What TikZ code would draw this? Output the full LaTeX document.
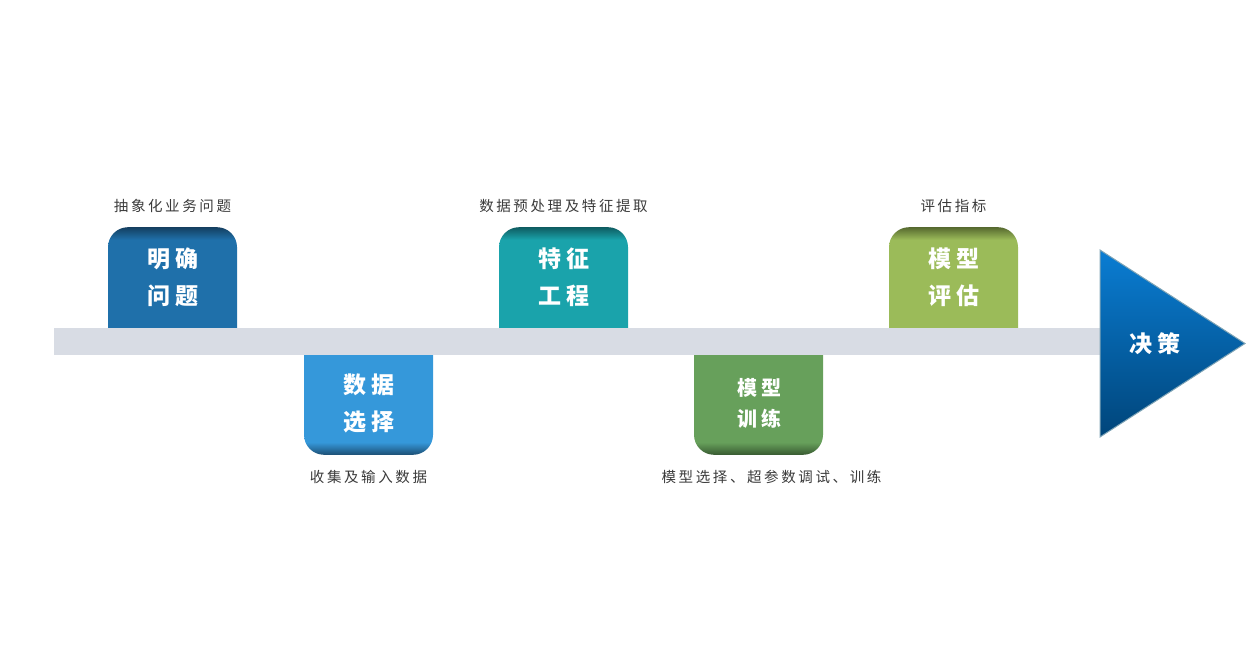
\documentclass[tikz,border=0pt]{standalone}
\usepackage{fontspec}
\newfontfamily\cjk[LetterSpace=18]{Noto Sans CJK SC}
\newfontfamily\cjkwide[LetterSpace=20]{Noto Sans CJK SC}
\usetikzlibrary{positioning}

\definecolor{barcolor}{HTML}{D8DCE4}
\definecolor{notegray}{HTML}{3A3A3A}
\definecolor{c1}{HTML}{1F70AA}\definecolor{c1r}{HTML}{143F60}
\definecolor{c2}{HTML}{3598DA}\definecolor{c2r}{HTML}{1D4F74}
\definecolor{c3}{HTML}{1AA3AB}\definecolor{c3r}{HTML}{0E5C61}
\definecolor{c4}{HTML}{67A05B}\definecolor{c4r}{HTML}{385A31}
\definecolor{c5}{HTML}{9BBB59}\definecolor{c5r}{HTML}{56692F}
\definecolor{tritop}{HTML}{0A7DD3}
\definecolor{tribot}{HTML}{00457A}
\definecolor{triedge}{HTML}{7FA4B6}

% dark rim on the outer edge of each stage
\pgfdeclareverticalshading{rimA}{100bp}{color(0bp)=(c1); color(70bp)=(c1); color(75bp)=(c1r); color(100bp)=(c1r)}
\pgfdeclareverticalshading{rimB}{100bp}{color(0bp)=(c2r); color(25bp)=(c2r); color(30bp)=(c2); color(100bp)=(c2)}
\pgfdeclareverticalshading{rimC}{100bp}{color(0bp)=(c3); color(70bp)=(c3); color(75bp)=(c3r); color(100bp)=(c3r)}
\pgfdeclareverticalshading{rimD}{100bp}{color(0bp)=(c4r); color(25bp)=(c4r); color(30bp)=(c4); color(100bp)=(c4)}
\pgfdeclareverticalshading{rimE}{100bp}{color(0bp)=(c5); color(70bp)=(c5); color(75bp)=(c5r); color(100bp)=(c5r)}

\tikzset{
  stage/.style={
    rounded corners=20pt,
    minimum width=129pt,
    minimum height=125pt,
    inner sep=0pt,
    shade
  },
  up/.style={stage, anchor=north},
  down/.style={stage, anchor=south},
  stagetext/.style={
    text=white,
    align=center,
    inner sep=0pt,
    font=\cjkwide\bfseries\fontsize{23}{37}\selectfont
  },
  smalltext/.style={stagetext, font=\cjkwide\bfseries\fontsize{20}{31}\selectfont},
  note/.style={
    inner sep=0pt,
    text=notegray,
    font=\cjk\fontsize{14.5}{16}\selectfont
  },
  bar/.style={fill=barcolor}
}

\begin{document}
\begin{tikzpicture}[x=1pt, y=-1pt]
\useasboundingbox (0,0) rectangle (1247,668);

% stages
\node[up, shading=rimA] (s1) at (172.5,227) {};
\node[down, shading=rimB] (s2) at (368.5,455) {};
\node[up, shading=rimC] (s3) at (563.5,227) {};
\node[down, shading=rimD] (s4) at (758.5,455) {};
\node[up, shading=rimE] (s5) at (953.5,227) {};

% time line
\fill[bar] (54,328) rectangle (1101,355);

% end arrow
\shade[top color=tritop, bottom color=tribot, draw=triedge, line width=1pt]
  (1100,250) -- (1245,343.5) -- (1100,437) -- cycle;
\node[stagetext] (decide) at (1155,344) {决策};

% stage texts
\node[stagetext] (t1) at (173,277) {明确\\问题};
\node[stagetext] (t2) at (369,403) {数据\\选择};
\node[stagetext] (t3) at (564,277) {特征\\工程};
\node[smalltext] (t4) at (759,403) {模型\\训练};
\node[stagetext] (t5) at (954,277) {模型\\评估};

% notes
\node[note, above=14pt of s1] (n1) {抽象化业务问题};
\node[note, below=15pt of s2] (n2) {收集及输入数据};
\node[note, above=14pt of s3] (n3) {数据预处理及特征提取};
\node[note, below=15pt of s4, xshift=13pt] (n4) {模型选择、超参数调试、训练};
\node[note, above=14pt of s5] (n5) {评估指标};

\end{tikzpicture}
\end{document}
